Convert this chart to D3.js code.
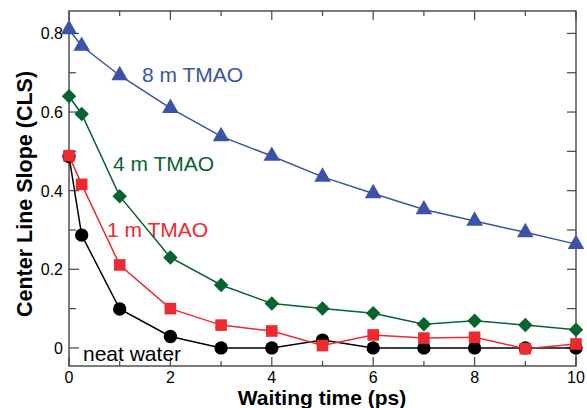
<!DOCTYPE html>
<html>
<head>
<meta charset="utf-8">
<script src="https://cdn.jsdelivr.net/npm/d3@7"></script>
<style>
  body { margin: 0; background: #fff; }
  svg { display: block; font-family: "Liberation Sans", Arial, sans-serif; }
</style>
</head>
<body>
<div id="chart"></div>
<script>
// waiting times (ps)
var times = [0, 0.25, 1, 2, 3, 4, 5, 6, 7, 8, 9, 10];
// center line slope per sample
var neatWater = [0.487, 0.287, 0.099, 0.029, 0, 0, 0.02, 0, 0, 0, 0, 0];
var tmao1 = [0.489, 0.416, 0.211, 0.1, 0.058, 0.043, 0.006, 0.033, 0.025, 0.027, -0.002, 0.01];
var tmao4 = [0.64, 0.595, 0.386, 0.23, 0.16, 0.113, 0.1, 0.088, 0.06, 0.069, 0.058, 0.046];
var tmao8 = [0.81, 0.768, 0.693, 0.61, 0.538, 0.488, 0.435, 0.393, 0.352, 0.323, 0.294, 0.264];
var seriesNames = ["neat water", "1 m TMAO", "4 m TMAO", "8 m TMAO"];
var yTickLabels = [0, 0.2, 0.4, 0.6, 0.8];
var xTickLabels = [0, 2, 4, 6, 8, 10];

var width = 587, height = 408;
var plot = {left: 69, right: 576, top: 11, bottom: 366};

var x = d3.scaleLinear().domain([0, 10]).range([plot.left, plot.right]);
var y = d3.scaleLinear().domain([-0.046, 0.857]).range([plot.bottom, plot.top]);

var svg = d3.select("#chart").append("svg")
	.attr("width", width)
	.attr("height", height);

var frameColor = "#444";

// ticks, all pointing inward
function tickLen(major) { return major ? 9 : 5; }
var xMinor = d3.range(0, 11, 1);
var yMinor = d3.range(0, 9).map(i => i / 10);

svg.append("g").selectAll("line")
	.data(xMinor).enter().append("line")
	.attr("x1", d => x(d)).attr("x2", d => x(d))
	.attr("y1", plot.bottom).attr("y2", d => plot.bottom - tickLen(d % 2 === 0))
	.attr("stroke", frameColor).attr("stroke-width", 1.2);

svg.append("g").selectAll("line")
	.data(xMinor).enter().append("line")
	.attr("x1", d => x(d)).attr("x2", d => x(d))
	.attr("y1", plot.top).attr("y2", d => plot.top + tickLen(d % 2 === 0))
	.attr("stroke", frameColor).attr("stroke-width", 1.2);

svg.append("g").selectAll("line")
	.data(yMinor).enter().append("line")
	.attr("y1", d => y(d)).attr("y2", d => y(d))
	.attr("x1", plot.left).attr("x2", (d, i) => plot.left + (i % 2 === 0 ? 10 : 7))
	.attr("stroke", frameColor).attr("stroke-width", 1.2);

svg.append("g").selectAll("line")
	.data(yMinor).enter().append("line")
	.attr("y1", d => y(d)).attr("y2", d => y(d))
	.attr("x1", plot.right).attr("x2", plot.right - 9)
	.attr("stroke", frameColor).attr("stroke-width", 1.2);

// frame
svg.append("rect")
	.attr("x", plot.left).attr("y", plot.top)
	.attr("width", plot.right - plot.left).attr("height", plot.bottom - plot.top)
	.attr("fill", "none")
	.attr("stroke", frameColor)
	.attr("stroke-width", 1.4);

// tick labels
svg.append("g").selectAll("text")
	.data(xTickLabels).enter().append("text")
	.attr("x", d => x(d)).attr("y", 383)
	.attr("text-anchor", "middle")
	.attr("font-size", 16)
	.text(d => d);

svg.append("g").selectAll("text")
	.data(yTickLabels).enter().append("text")
	.attr("x", plot.left - 6).attr("y", d => y(d) + 6)
	.attr("text-anchor", "end")
	.attr("font-size", 16)
	.text(d => d);

// axis titles
svg.append("text")
	.attr("x", 322).attr("y", 405)
	.attr("text-anchor", "middle")
	.attr("font-size", 21).attr("font-weight", "bold")
	.text("Waiting time (ps)");

svg.append("text")
	.attr("transform", "translate(32," + 194 + ") rotate(-90)")
	.attr("text-anchor", "middle")
	.attr("font-size", 21.5).attr("font-weight", "bold")
	.text("Center Line Slope (CLS)");

// series
var series = [
	{name: seriesNames[0], vals: neatWater, color: "#000000", shape: d3.symbolCircle, size: 140, rot: 0, lx: 83, ly: 361},
	{name: seriesNames[1], vals: tmao1, color: "#ec2a2f", shape: d3.symbolSquare, size: 135, rot: 0, lx: 107, ly: 237},
	{name: seriesNames[2], vals: tmao4, color: "#07642e", shape: d3.symbolSquare, size: 105, rot: 45, lx: 113, ly: 171},
	{name: seriesNames[3], vals: tmao8, color: "#3a53a6", shape: d3.symbolTriangle, size: 120, rot: 0, lx: 142, ly: 82}
];

var line = d3.line()
	.x(d => x(d[0]))
	.y(d => y(d[1]));

series.forEach(function(s) {
	var pts = times.map((t, i) => [t, s.vals[i]]);
	var g = svg.append("g");
	g.append("path")
		.attr("d", line(pts))
		.attr("fill", "none")
		.attr("stroke", s.color)
		.attr("stroke-width", 1.5);
	g.selectAll("path.m")
		.data(pts).enter().append("path")
		.attr("class", "m")
		.attr("transform", d => "translate(" + x(d[0]) + "," + y(d[1]) + ") rotate(" + s.rot + ")")
		.attr("d", d3.symbol().type(s.shape).size(s.size))
		.attr("fill", s.color);
	svg.append("text")
		.attr("x", s.lx).attr("y", s.ly)
		.attr("font-size", 21)
		.attr("fill", s.color)
		.text(s.name);
});
</script>
</body>
</html>
